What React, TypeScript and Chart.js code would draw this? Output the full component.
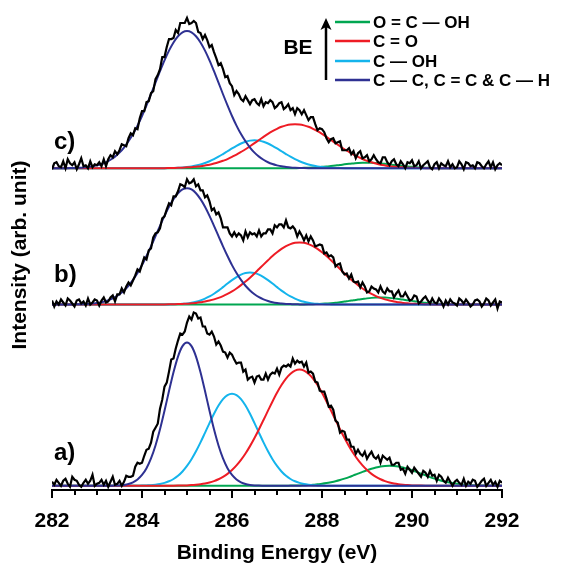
import React, { useEffect, useRef } from 'react';
import { Chart, registerables } from 'chart.js';

Chart.register(...registerables);

const FONT = '"Liberation Sans", Arial, Helvetica, sans-serif';

// Binding energy grid of the measured spectra (eV)
const energyFine = [
  282.00, 282.05, 282.10, 282.15, 282.20, 282.25, 282.30, 282.35, 282.40, 282.45,
  282.50, 282.55, 282.60, 282.65, 282.70, 282.75, 282.80, 282.85, 282.90, 282.95,
  283.00, 283.05, 283.10, 283.15, 283.20, 283.25, 283.30, 283.35, 283.40, 283.45,
  283.50, 283.55, 283.60, 283.65, 283.70, 283.75, 283.80, 283.85, 283.90, 283.95,
  284.00, 284.05, 284.10, 284.15, 284.20, 284.25, 284.30, 284.35, 284.40, 284.45,
  284.50, 284.55, 284.60, 284.65, 284.70, 284.75, 284.80, 284.85, 284.90, 284.95,
  285.00, 285.05, 285.10, 285.15, 285.20, 285.25, 285.30, 285.35, 285.40, 285.45,
  285.50, 285.55, 285.60, 285.65, 285.70, 285.75, 285.80, 285.85, 285.90, 285.95,
  286.00, 286.05, 286.10, 286.15, 286.20, 286.25, 286.30, 286.35, 286.40, 286.45,
  286.50, 286.55, 286.60, 286.65, 286.70, 286.75, 286.80, 286.85, 286.90, 286.95,
  287.00, 287.05, 287.10, 287.15, 287.20, 287.25, 287.30, 287.35, 287.40, 287.45,
  287.50, 287.55, 287.60, 287.65, 287.70, 287.75, 287.80, 287.85, 287.90, 287.95,
  288.00, 288.05, 288.10, 288.15, 288.20, 288.25, 288.30, 288.35, 288.40, 288.45,
  288.50, 288.55, 288.60, 288.65, 288.70, 288.75, 288.80, 288.85, 288.90, 288.95,
  289.00, 289.05, 289.10, 289.15, 289.20, 289.25, 289.30, 289.35, 289.40, 289.45,
  289.50, 289.55, 289.60, 289.65, 289.70, 289.75, 289.80, 289.85, 289.90, 289.95,
  290.00, 290.05, 290.10, 290.15, 290.20, 290.25, 290.30, 290.35, 290.40, 290.45,
  290.50, 290.55, 290.60, 290.65, 290.70, 290.75, 290.80, 290.85, 290.90, 290.95,
  291.00, 291.05, 291.10, 291.15, 291.20, 291.25, 291.30, 291.35, 291.40, 291.45,
  291.50, 291.55, 291.60, 291.65, 291.70, 291.75, 291.80, 291.85, 291.90, 291.95,
  292.00,
];

// Binding energy grid of the fitted components (eV)
const energyFit = [
  282.0, 282.1, 282.2, 282.3, 282.4, 282.5, 282.6, 282.7, 282.8, 282.9,
  283.0, 283.1, 283.2, 283.3, 283.4, 283.5, 283.6, 283.7, 283.8, 283.9,
  284.0, 284.1, 284.2, 284.3, 284.4, 284.5, 284.6, 284.7, 284.8, 284.9,
  285.0, 285.1, 285.2, 285.3, 285.4, 285.5, 285.6, 285.7, 285.8, 285.9,
  286.0, 286.1, 286.2, 286.3, 286.4, 286.5, 286.6, 286.7, 286.8, 286.9,
  287.0, 287.1, 287.2, 287.3, 287.4, 287.5, 287.6, 287.7, 287.8, 287.9,
  288.0, 288.1, 288.2, 288.3, 288.4, 288.5, 288.6, 288.7, 288.8, 288.9,
  289.0, 289.1, 289.2, 289.3, 289.4, 289.5, 289.6, 289.7, 289.8, 289.9,
  290.0, 290.1, 290.2, 290.3, 290.4, 290.5, 290.6, 290.7, 290.8, 290.9,
  291.0, 291.1, 291.2, 291.3, 291.4, 291.5, 291.6, 291.7, 291.8, 291.9,
  292.0,
];

// Measured spectra (arb. unit, each relative to its own baseline)
const spectrumA = [
  4, 1, 6, 3, 0, 5, 7, 2, -1, 9,
  6, 5, 1, -1, 3, 6, 2, 5, 11, 0,
  2, 3, 6, 1, 5, -1, 4, 9, 1, 2,
  5, 0, 4, 10, 9, 9, 10, 19, 23, 22,
  23, 30, 36, 37, 43, 54, 58, 62, 77, 86,
  99, 103, 114, 126, 127, 137, 145, 152, 151, 154,
  163, 169, 166, 173, 172, 167, 168, 159, 159, 152,
  151, 154, 149, 141, 144, 140, 134, 133, 128, 133,
  131, 126, 122, 123, 123, 114, 116, 106, 108, 109,
  103, 109, 110, 106, 106, 112, 106, 111, 113, 112,
  117, 111, 118, 120, 119, 121, 119, 127, 122, 125,
  123, 124, 119, 123, 113, 114, 112, 104, 103, 95,
  94, 94, 87, 79, 80, 76, 65, 63, 53, 55,
  54, 46, 46, 39, 39, 32, 36, 32, 30, 34,
  27, 31, 34, 29, 27, 30, 23, 30, 28, 26,
  28, 21, 21, 23, 23, 16, 17, 12, 19, 16,
  13, 18, 15, 12, 9, 15, 13, 9, 15, 10,
  11, 5, 11, 9, 5, 3, 8, 4, 0, 4,
  6, 3, 1, 7, 0, 4, 2, 6, 5, -1,
  2, 5, 7, 0, 3, 6, 1, 4, -1, 5,
  3,
];

const spectrumB = [
  4, -2, 3, 0, 5, 2, -1, 6, 4, 1,
  -2, 4, 5, 1, 3, -1, 6, 0, 2, 5,
  4, -1, 4, 7, 2, 3, 7, 9, 3, 10,
  10, 16, 12, 18, 22, 19, 24, 29, 35, 33,
  40, 47, 45, 54, 56, 67, 71, 72, 76, 86,
  88, 95, 101, 99, 108, 108, 113, 120, 119, 117,
  125, 121, 122, 125, 118, 120, 114, 114, 107, 109,
  103, 94, 96, 90, 92, 86, 77, 77, 77, 71,
  68, 72, 68, 71, 69, 64, 73, 67, 72, 70,
  71, 68, 74, 68, 71, 71, 75, 75, 71, 79,
  77, 80, 80, 77, 84, 77, 76, 78, 75, 68,
  73, 69, 64, 69, 63, 68, 64, 58, 59, 60,
  59, 51, 52, 48, 49, 47, 38, 40, 41, 33,
  30, 31, 26, 30, 23, 22, 23, 17, 22, 18,
  12, 13, 18, 16, 15, 12, 18, 13, 11, 16,
  13, 13, 7, 11, 14, 8, 8, 12, 8, 4,
  5, 9, 8, 1, 3, 6, 8, 4, 1, 6,
  2, 1, 6, 3, -2, 4, 0, 5, 2, 1,
  -1, 6, 4, 1, 5, 2, -2, 0, 4, 5,
  3, -2, 1, 6, 4, -1, 2, 5, -4, 3,
  2,
];

const spectrumC = [
  -1, 5, 6, 2, 1, 7, 0, 9, 5, 3,
  6, -1, 4, 10, 2, 3, 0, 7, 1, 4,
  3, 6, 2, 9, 2, 9, 13, 11, 17, 14,
  18, 24, 23, 22, 30, 35, 33, 40, 39, 50,
  57, 57, 66, 67, 75, 77, 89, 93, 99, 111,
  111, 121, 129, 129, 130, 138, 135, 145, 145, 145,
  150, 144, 145, 147, 145, 136, 135, 129, 133, 128,
  121, 123, 116, 110, 103, 105, 99, 91, 92, 85,
  82, 73, 77, 74, 69, 67, 72, 68, 64, 68,
  69, 65, 63, 69, 62, 66, 65, 68, 66, 60,
  62, 65, 66, 59, 61, 64, 58, 60, 54, 60,
  58, 54, 58, 53, 48, 51, 51, 44, 38, 40,
  39, 36, 30, 26, 29, 30, 25, 26, 27, 18,
  18, 18, 20, 14, 17, 10, 15, 17, 10, 11,
  13, 7, 9, 13, 9, 6, 5, 11, 11, 6,
  3, 7, 9, 4, 2, 7, 4, 0, 6, 5,
  8, 2, 3, 7, 0, 3, 5, 7, 1, -1,
  4, 6, 0, 5, 3, 2, 7, 1, 4, 0,
  1, 7, 4, -1, 6, 5, 2, 3, 0, 6,
  5, 2, 0, 4, 7, 1, 6, -1, 3, 5,
  3,
];

// Fitted components, spectrum a)
const fitA_CC = [
  0, 0, 0, 0, 0, 0, 0, 0, 0, 0,
  0, 0, 0, 0.1, 0.2, 0.4, 0.9, 1.8, 3.5, 6.3,
  10.8, 17.6, 27.4, 40.3, 56.4, 74.9, 94.6, 113.3, 129, 139.4,
  143, 139.4, 129, 113.3, 94.6, 74.9, 56.4, 40.3, 27.4, 17.6,
  10.8, 6.3, 3.5, 1.8, 0.9, 0.4, 0.2, 0.1, 0, 0,
  0, 0, 0, 0, 0, 0, 0, 0, 0, 0,
  0, 0, 0, 0, 0, 0, 0, 0, 0, 0,
  0, 0, 0, 0, 0, 0, 0, 0, 0, 0,
  0, 0, 0, 0, 0, 0, 0, 0, 0, 0,
  0, 0, 0, 0, 0, 0, 0, 0, 0, 0,
  0,
];
const fitA_COH = [
  0, 0, 0, 0, 0, 0, 0, 0, 0, 0,
  0, 0, 0, 0, 0, 0, 0, 0, 0, 0.1,
  0.2, 0.4, 0.6, 1.1, 1.8, 2.9, 4.5, 6.8, 10, 14.3,
  19.8, 26.5, 34.4, 43.3, 52.9, 62.6, 71.9, 80.1, 86.5, 90.6,
  92, 90.6, 86.5, 80.1, 71.9, 62.6, 52.9, 43.3, 34.4, 26.5,
  19.8, 14.3, 10, 6.8, 4.5, 2.9, 1.8, 1.1, 0.6, 0.4,
  0.2, 0.1, 0, 0, 0, 0, 0, 0, 0, 0,
  0, 0, 0, 0, 0, 0, 0, 0, 0, 0,
  0, 0, 0, 0, 0, 0, 0, 0, 0, 0,
  0, 0, 0, 0, 0, 0, 0, 0, 0, 0,
  0,
];
const fitA_CO = [
  0, 0, 0, 0, 0, 0, 0, 0, 0, 0,
  0, 0, 0, 0, 0, 0, 0, 0, 0, 0,
  0, 0, 0, 0, 0, 0, 0, 0.1, 0.2, 0.3,
  0.4, 0.7, 1.1, 1.6, 2.3, 3.3, 4.7, 6.5, 8.9, 11.9,
  15.7, 20.3, 25.8, 32.2, 39.6, 47.7, 56.5, 65.7, 75, 84.2,
  92.9, 100.6, 107.1, 111.9, 115, 116, 115, 111.9, 107.1, 100.6,
  92.9, 84.2, 75, 65.7, 56.5, 47.7, 39.6, 32.2, 25.8, 20.3,
  15.7, 11.9, 8.9, 6.5, 4.7, 3.3, 2.3, 1.6, 1.1, 0.7,
  0.4, 0.3, 0.2, 0.1, 0, 0, 0, 0, 0, 0,
  0, 0, 0, 0, 0, 0, 0, 0, 0, 0,
  0,
];
const fitA_OCOH = [
  0, 0, 0, 0, 0, 0, 0, 0, 0, 0,
  0, 0, 0, 0, 0, 0, 0, 0, 0, 0,
  0, 0, 0, 0, 0, 0, 0, 0, 0, 0,
  0, 0, 0, 0, 0, 0, 0, 0, 0, 0,
  0, 0, 0, 0, 0, 0, 0, 0, 0, 0,
  0, 0.1, 0.1, 0.2, 0.2, 0.3, 0.5, 0.7, 1, 1.5,
  2, 2.7, 3.6, 4.6, 5.8, 7.2, 8.7, 10.4, 12.1, 13.9,
  15.5, 17, 18.2, 19.2, 19.8, 20, 19.8, 19.2, 18.2, 17,
  15.5, 13.9, 12.1, 10.4, 8.7, 7.2, 5.8, 4.6, 3.6, 2.7,
  2, 1.5, 1, 0.7, 0.5, 0.3, 0.2, 0.1, 0.1, 0,
  0,
];

// Fitted components, spectrum b)
const fitB_CC = [
  0, 0, 0, 0, 0, 0.1, 0.2, 0.4, 0.6, 1,
  1.5, 2.3, 3.5, 5.1, 7.3, 10.2, 14, 18.7, 24.5, 31.4,
  39.3, 48.4, 58.1, 68.3, 78.5, 88.5, 97.6, 105.2, 111.1, 114.8,
  116, 114.8, 111.1, 105.2, 97.6, 88.5, 78.5, 68.3, 58.1, 48.4,
  39.3, 31.4, 24.5, 18.7, 14, 10.2, 7.3, 5.1, 3.5, 2.3,
  1.5, 1, 0.6, 0.4, 0.2, 0.1, 0, 0, 0, 0,
  0, 0, 0, 0, 0, 0, 0, 0, 0, 0,
  0, 0, 0, 0, 0, 0, 0, 0, 0, 0,
  0, 0, 0, 0, 0, 0, 0, 0, 0, 0,
  0, 0, 0, 0, 0, 0, 0, 0, 0, 0,
  0,
];
const fitB_COH = [
  0, 0, 0, 0, 0, 0, 0, 0, 0, 0,
  0, 0, 0, 0, 0, 0, 0, 0, 0, 0,
  0, 0, 0, 0, 0, 0, 0.1, 0.2, 0.4, 0.7,
  1.1, 1.8, 2.7, 4, 5.8, 8, 10.7, 13.8, 17.3, 20.9,
  24.3, 27.4, 29.9, 31.5, 32, 31.5, 29.9, 27.4, 24.3, 20.9,
  17.3, 13.8, 10.7, 8, 5.8, 4, 2.7, 1.8, 1.1, 0.7,
  0.4, 0.2, 0.1, 0, 0, 0, 0, 0, 0, 0,
  0, 0, 0, 0, 0, 0, 0, 0, 0, 0,
  0, 0, 0, 0, 0, 0, 0, 0, 0, 0,
  0, 0, 0, 0, 0, 0, 0, 0, 0, 0,
  0,
];
const fitB_CO = [
  0, 0, 0, 0, 0, 0, 0, 0, 0, 0,
  0, 0, 0, 0, 0, 0, 0, 0, 0, 0,
  0, 0, 0, 0, 0, 0.1, 0.2, 0.3, 0.4, 0.6,
  0.8, 1.2, 1.6, 2.2, 2.9, 3.9, 5.1, 6.6, 8.4, 10.5,
  13, 16, 19.3, 22.9, 26.8, 31, 35.4, 39.8, 44.1, 48.3,
  52.1, 55.5, 58.3, 60.3, 61.6, 62, 61.6, 60.3, 58.3, 55.5,
  52.1, 48.3, 44.1, 39.8, 35.4, 31, 26.8, 22.9, 19.3, 16,
  13, 10.5, 8.4, 6.6, 5.1, 3.9, 2.9, 2.2, 1.6, 1.2,
  0.8, 0.6, 0.4, 0.3, 0.2, 0.1, 0, 0, 0, 0,
  0, 0, 0, 0, 0, 0, 0, 0, 0, 0,
  0,
];
const fitB_OCOH = [
  0, 0, 0, 0, 0, 0, 0, 0, 0, 0,
  0, 0, 0, 0, 0, 0, 0, 0, 0, 0,
  0, 0, 0, 0, 0, 0, 0, 0, 0, 0,
  0, 0, 0, 0, 0, 0, 0, 0, 0, 0,
  0, 0, 0, 0, 0, 0, 0, 0, 0, 0,
  0, 0, 0, 0, 0, 0, 0.1, 0.2, 0.3, 0.5,
  0.7, 1, 1.3, 1.7, 2.3, 2.9, 3.6, 4.2, 4.9, 5.5,
  6.1, 6.6, 6.9, 7, 6.9, 6.6, 6.1, 5.5, 4.9, 4.2,
  3.6, 2.9, 2.3, 1.7, 1.3, 1, 0.7, 0.5, 0.3, 0.2,
  0.1, 0, 0, 0, 0, 0, 0, 0, 0, 0,
  0,
];

// Fitted components, spectrum c)
const fitC_CC = [
  0, 0, 0, 0.1, 0.2, 0.3, 0.5, 0.8, 1.3, 1.9,
  2.9, 4.2, 6, 8.5, 11.6, 15.6, 20.7, 26.9, 34.1, 42.6,
  52.2, 62.8, 73.9, 85.6, 96.9, 107.7, 117.4, 125.6, 131.8, 135.7,
  137, 135.7, 131.8, 125.6, 117.4, 107.7, 96.9, 85.6, 73.9, 62.8,
  52.2, 42.6, 34.1, 26.9, 20.7, 15.6, 11.6, 8.5, 6, 4.2,
  2.9, 1.9, 1.3, 0.8, 0.5, 0.3, 0.2, 0.1, 0, 0,
  0, 0, 0, 0, 0, 0, 0, 0, 0, 0,
  0, 0, 0, 0, 0, 0, 0, 0, 0, 0,
  0, 0, 0, 0, 0, 0, 0, 0, 0, 0,
  0, 0, 0, 0, 0, 0, 0, 0, 0, 0,
  0,
];
const fitC_COH = [
  0, 0, 0, 0, 0, 0, 0, 0, 0, 0,
  0, 0, 0, 0, 0, 0, 0, 0, 0, 0,
  0, 0, 0, 0, 0, 0.1, 0.2, 0.3, 0.5, 0.8,
  1.2, 1.8, 2.7, 3.8, 5.2, 7, 9.1, 11.5, 14.2, 17,
  19.8, 22.4, 24.7, 26.5, 27.6, 28, 27.6, 26.5, 24.7, 22.4,
  19.8, 17, 14.2, 11.5, 9.1, 7, 5.2, 3.8, 2.7, 1.8,
  1.2, 0.8, 0.5, 0.3, 0.2, 0.1, 0, 0, 0, 0,
  0, 0, 0, 0, 0, 0, 0, 0, 0, 0,
  0, 0, 0, 0, 0, 0, 0, 0, 0, 0,
  0, 0, 0, 0, 0, 0, 0, 0, 0, 0,
  0,
];
const fitC_CO = [
  0, 0, 0, 0, 0, 0, 0, 0, 0, 0,
  0, 0, 0, 0, 0, 0, 0, 0, 0, 0,
  0, 0, 0, 0, 0.1, 0.1, 0.2, 0.3, 0.4, 0.6,
  0.9, 1.1, 1.6, 2.1, 2.8, 3.6, 4.7, 6, 7.5, 9.2,
  11.4, 13.7, 16.3, 19, 22, 25.1, 28.2, 31.3, 34.3, 37,
  39.4, 41.4, 42.8, 43.7, 44, 43.7, 42.8, 41.4, 39.4, 37,
  34.3, 31.3, 28.2, 25.1, 22, 19, 16.3, 13.7, 11.4, 9.2,
  7.5, 6, 4.7, 3.6, 2.8, 2.1, 1.6, 1.1, 0.9, 0.6,
  0.4, 0.3, 0.2, 0.1, 0.1, 0, 0, 0, 0, 0,
  0, 0, 0, 0, 0, 0, 0, 0, 0, 0,
  0,
];
const fitC_OCOH = [
  0, 0, 0, 0, 0, 0, 0, 0, 0, 0,
  0, 0, 0, 0, 0, 0, 0, 0, 0, 0,
  0, 0, 0, 0, 0, 0, 0, 0, 0, 0,
  0, 0, 0, 0, 0, 0, 0, 0, 0, 0,
  0, 0, 0, 0, 0, 0, 0, 0, 0, 0,
  0, 0, 0, 0, 0.1, 0.2, 0.4, 0.5, 0.7, 1,
  1.4, 1.8, 2.3, 2.8, 3.3, 3.9, 4.4, 4.8, 5.2, 5.4,
  5.5, 5.4, 5.2, 4.8, 4.4, 3.9, 3.3, 2.8, 2.3, 1.8,
  1.4, 1, 0.7, 0.5, 0.4, 0.2, 0.1, 0.1, 0, 0,
  0, 0, 0, 0, 0, 0, 0, 0, 0, 0,
  0,
];

// Vertical stacking offsets of the three spectra (arb. unit)
const offsetA = 0;
const offsetB = 181;
const offsetC = 317;

const panelLabels = ['a)', 'b)', 'c)'];
const legendLabels = ['O = C \u2014 OH', 'C = O', 'C \u2014 OH', 'C \u2014 C, C = C & C \u2014 H'];
const majorTicks = [282, 284, 286, 288, 290, 292];
const xTitle = 'Binding Energy (eV)';
const yTitle = 'Intensity (arb. unit)';

const COLOR_OCOH = '#00a651';
const COLOR_CO = '#ee1c25';
const COLOR_COH = '#14b4ec';
const COLOR_CC = '#2e3192';
const legendColors = [COLOR_OCOH, COLOR_CO, COLOR_COH, COLOR_CC];

function toPoints(xs: number[], ys: number[], offset: number) {
  return xs.map((x, i) => ({ x, y: ys[i] + offset }));
}

const decorPlugin = {
  id: 'decor',
  afterDraw(chart: any) {
    const ctx = chart.ctx as CanvasRenderingContext2D;
    const xs = chart.scales.x;
    const ys = chart.scales.y;
    const area = chart.chartArea;
    ctx.save();
    // tick marks: long at labelled values, short in between
    ctx.strokeStyle = '#000';
    ctx.lineWidth = 2;
    const axisY = Math.round(area.bottom);
    xs.ticks.forEach((t: any) => {
      const len = majorTicks.includes(t.value) ? 8 : 5;
      const px = Math.round(xs.getPixelForValue(t.value));
      ctx.beginPath();
      ctx.moveTo(px, axisY);
      ctx.lineTo(px, axisY + len);
      ctx.stroke();
    });
    // y axis title
    ctx.fillStyle = '#000';
    ctx.font = `bold 21px ${FONT}`;
    ctx.textAlign = 'center';
    ctx.textBaseline = 'middle';
    ctx.save();
    ctx.translate(20, 255);
    ctx.rotate(-Math.PI / 2);
    ctx.fillText(yTitle, 0, 0);
    ctx.restore();
    // panel labels
    ctx.font = `bold 24px ${FONT}`;
    ctx.textAlign = 'left';
    const offs = [offsetA, offsetB, offsetC];
    const lift = [32, 29, 26];
    panelLabels.forEach((lab, i) => {
      const py = ys.getPixelForValue(offs[i] + lift[i]);
      ctx.fillText(lab, 54, py);
    });
    // legend
    const rowsY = [22, 41, 61, 80];
    ctx.font = `bold 17px ${FONT}`;
    legendLabels.forEach((lab, i) => {
      ctx.strokeStyle = legendColors[i];
      ctx.lineWidth = 2.5;
      ctx.beginPath();
      ctx.moveTo(335, rowsY[i]);
      ctx.lineTo(370, rowsY[i]);
      ctx.stroke();
      ctx.fillStyle = '#000';
      ctx.fillText(lab, 373, rowsY[i] + 1);
    });
    // BE arrow
    ctx.strokeStyle = '#000';
    ctx.lineWidth = 2.5;
    ctx.beginPath();
    ctx.moveTo(326, 80);
    ctx.lineTo(326, 26);
    ctx.stroke();
    ctx.fillStyle = '#000';
    ctx.beginPath();
    ctx.moveTo(326, 18);
    ctx.lineTo(320.5, 30);
    ctx.lineTo(326, 27);
    ctx.lineTo(331.5, 30);
    ctx.closePath();
    ctx.fill();
    ctx.font = `bold 21px ${FONT}`;
    ctx.textAlign = 'center';
    ctx.fillText('BE', 298, 48);
    ctx.restore();
  },
};

export default function App() {
  const canvasRef = useRef<HTMLCanvasElement | null>(null);

  useEffect(() => {
    if (!canvasRef.current) return;
    const black = (d: number[], off: number) => ({
      data: toPoints(energyFine, d, off),
      borderColor: '#000',
      borderWidth: 2.2,
      pointRadius: 0,
      tension: 0,
      order: 0,
    });
    const comp = (d: number[], off: number, color: string, order: number) => ({
      data: toPoints(energyFit, d, off),
      borderColor: color,
      borderWidth: 2,
      pointRadius: 0,
      cubicInterpolationMode: 'monotone',
      order,
    });
    const datasets: any[] = [
      black(spectrumA, offsetA),
      black(spectrumB, offsetB),
      black(spectrumC, offsetC),
      comp(fitA_CC, offsetA, COLOR_CC, 1),
      comp(fitA_CO, offsetA, COLOR_CO, 2),
      comp(fitA_COH, offsetA, COLOR_COH, 3),
      comp(fitA_OCOH, offsetA, COLOR_OCOH, 4),
      comp(fitB_CC, offsetB, COLOR_CC, 1),
      comp(fitB_CO, offsetB, COLOR_CO, 2),
      comp(fitB_COH, offsetB, COLOR_COH, 3),
      comp(fitB_OCOH, offsetB, COLOR_OCOH, 4),
      comp(fitC_CC, offsetC, COLOR_CC, 1),
      comp(fitC_CO, offsetC, COLOR_CO, 2),
      comp(fitC_COH, offsetC, COLOR_COH, 3),
      comp(fitC_OCOH, offsetC, COLOR_OCOH, 4),
    ];
    const chart = new Chart(canvasRef.current, {
      type: 'line',
      data: { datasets },
      options: {
        responsive: false,
        animation: false,
        events: [],
        layout: { padding: { left: 52, right: 60, top: 12, bottom: 0 } },
        plugins: { legend: { display: false }, tooltip: { enabled: false } },
        scales: {
          x: {
            type: 'linear',
            min: 282,
            max: 292,
            position: 'bottom',
            border: { display: true, color: '#000', width: 2 },
            grid: {
              display: true,
              drawOnChartArea: false,
              drawTicks: true,
              tickLength: 12,
              tickWidth: 0,
              tickColor: 'rgba(0,0,0,0)',
            },
            ticks: {
              stepSize: 0.5,
              autoSkip: false,
              maxRotation: 0,
              padding: 7,
              color: '#000',
              font: { family: FONT, size: 21, weight: 'bold' },
              callback: (v: any) => (majorTicks.includes(Number(v)) ? String(v) : ''),
            },
            title: {
              display: true,
              text: xTitle,
              color: '#000',
              font: { family: FONT, size: 21, weight: 'bold', lineHeight: 1.143 },
              padding: { top: 0, bottom: 0 },
            },
          },
          y: {
            type: 'linear',
            display: false,
            min: -4,
            max: 473,
          },
        },
      } as any,
      plugins: [decorPlugin],
    });
    return () => chart.destroy();
  }, []);

  return (
    <div style={{ position: 'fixed', left: 0, top: 0, width: 562, height: 565, background: '#fff' }}>
      <canvas ref={canvasRef} width={562} height={565} style={{ width: 562, height: 565, display: 'block' }} />
    </div>
  );
}
